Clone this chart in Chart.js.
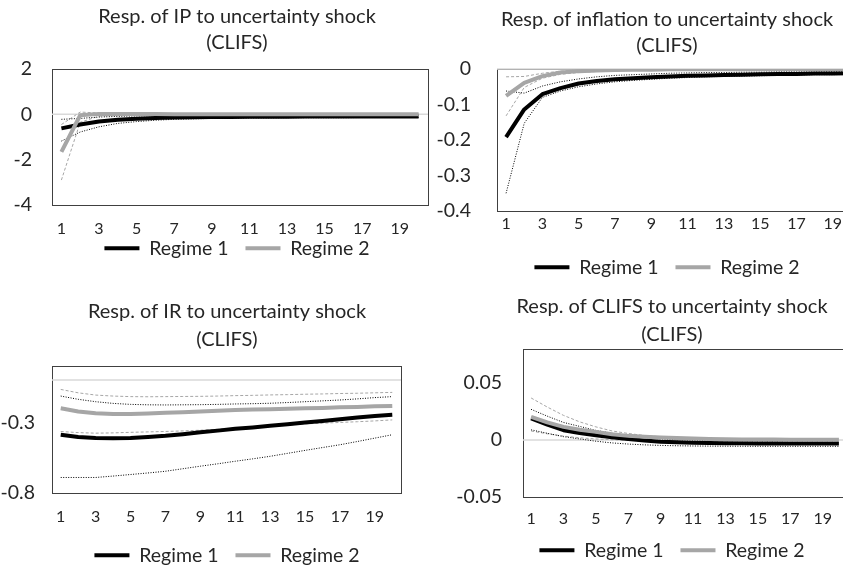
<!DOCTYPE html>
<html>
<head>
<meta charset="utf-8">
<title>Responses to uncertainty shock</title>
<script src="https://cdn.jsdelivr.net/npm/chart.js@4"></script>
<style>
  html, body { margin: 0; padding: 0; background: #fff; width: 843px; height: 567px; overflow: hidden; }
  canvas { position: absolute; }
</style>
</head>
<body>
<canvas id="ipChart"></canvas>
<canvas id="infChart"></canvas>
<canvas id="irChart"></canvas>
<canvas id="clifsChart"></canvas>
<script>
// horizon (months after the shock)
const periods = ['1','2','3','4','5','6','7','8','9','10','11','12','13','14','15','16','17','18','19','20'];

// IP
const ipR1   = [-0.62, -0.45, -0.32, -0.24, -0.19, -0.16, -0.14, -0.13, -0.12, -0.12, -0.11, -0.11, -0.11, -0.10, -0.10, -0.10, -0.10, -0.10, -0.10, -0.10];
const ipR1Lo = [-1.18, -0.78, -0.55, -0.40, -0.32, -0.26, -0.22, -0.20, -0.18, -0.17, -0.16, -0.16, -0.15, -0.15, -0.15, -0.15, -0.14, -0.14, -0.14, -0.14];
const ipR1Hi = [-0.22, -0.18, -0.12, -0.09, -0.07, -0.06, -0.05, -0.05, -0.05, -0.05, -0.05, -0.05, -0.05, -0.05, -0.05, -0.05, -0.05, -0.05, -0.05, -0.05];
const ipR2   = [-1.66, -0.04, 0.02, 0.02, 0.01, 0.01, 0.00, 0.00, 0.00, 0.00, 0.00, 0.00, 0.00, 0.00, 0.00, 0.00, 0.00, 0.00, 0.00, 0.00];
const ipR2Lo = [-2.90, -0.35, -0.08, -0.04, -0.03, -0.02, -0.02, -0.02, -0.02, -0.02, -0.02, -0.02, -0.02, -0.02, -0.02, -0.02, -0.02, -0.02, -0.02, -0.02];
const ipR2Hi = [-0.45, 0.10, 0.06, 0.04, 0.03, 0.02, 0.02, 0.02, 0.02, 0.02, 0.02, 0.02, 0.02, 0.02, 0.02, 0.02, 0.02, 0.02, 0.02, 0.02];
const ipTicks = [2, 0, -2, -4];

// inflation
const infR1   = [-0.192, -0.114, -0.071, -0.054, -0.041, -0.034, -0.029, -0.026, -0.023, -0.021, -0.019, -0.018, -0.017, -0.016, -0.015, -0.014, -0.014, -0.013, -0.013, -0.012];
const infR1Lo = [-0.350, -0.153, -0.080, -0.062, -0.050, -0.042, -0.036, -0.032, -0.029, -0.026, -0.024, -0.022, -0.021, -0.020, -0.019, -0.018, -0.017, -0.016, -0.016, -0.015];
const infR1Hi = [-0.062, -0.068, -0.048, -0.036, -0.028, -0.022, -0.018, -0.016, -0.014, -0.012, -0.011, -0.010, -0.010, -0.009, -0.009, -0.008, -0.008, -0.008, -0.007, -0.007];
const infR2   = [-0.076, -0.039, -0.020, -0.010, -0.006, -0.004, -0.003, -0.002, -0.002, -0.001, -0.001, -0.001, -0.001, -0.001, -0.001, -0.001, -0.001, -0.001, -0.001, -0.001];
const infR2Lo = [-0.132, -0.052, -0.026, -0.015, -0.010, -0.007, -0.005, -0.004, -0.003, -0.003, -0.002, -0.002, -0.002, -0.002, -0.002, -0.002, -0.002, -0.002, -0.002, -0.002];
const infR2Hi = [-0.022, -0.021, -0.012, -0.006, -0.003, -0.002, -0.001, -0.001, 0.000, 0.000, 0.000, 0.000, 0.000, 0.000, 0.000, 0.000, 0.000, 0.000, 0.000, 0.000];
const infTicks = [0, -0.1, -0.2, -0.3, -0.4];

// interest rate
const irR1   = [-0.387, -0.403, -0.410, -0.412, -0.410, -0.403, -0.395, -0.383, -0.370, -0.358, -0.345, -0.335, -0.324, -0.312, -0.300, -0.289, -0.277, -0.265, -0.254, -0.246];
const irR1Lo = [-0.690, -0.690, -0.690, -0.680, -0.669, -0.658, -0.646, -0.628, -0.610, -0.593, -0.575, -0.558, -0.540, -0.519, -0.498, -0.478, -0.458, -0.435, -0.411, -0.387];
const irR1Hi = [-0.113, -0.136, -0.153, -0.165, -0.172, -0.175, -0.176, -0.175, -0.174, -0.172, -0.169, -0.167, -0.164, -0.159, -0.153, -0.147, -0.141, -0.133, -0.124, -0.117];
const irR2   = [-0.200, -0.222, -0.235, -0.240, -0.240, -0.237, -0.232, -0.228, -0.223, -0.217, -0.211, -0.209, -0.207, -0.203, -0.200, -0.197, -0.193, -0.190, -0.186, -0.183];
const irR2Lo = [-0.364, -0.372, -0.376, -0.374, -0.370, -0.367, -0.364, -0.360, -0.355, -0.348, -0.340, -0.335, -0.329, -0.320, -0.310, -0.305, -0.300, -0.295, -0.289, -0.282];
const irR2Hi = [-0.066, -0.090, -0.106, -0.113, -0.117, -0.118, -0.117, -0.116, -0.115, -0.113, -0.110, -0.108, -0.105, -0.103, -0.100, -0.098, -0.095, -0.093, -0.090, -0.087];
const irTicks = [-0.3, -0.8];

// CLIFS
const clR1   = [0.0190, 0.0135, 0.0087, 0.0062, 0.0043, 0.0025, 0.0009, -0.0003, -0.0015, -0.0020, -0.0023, -0.0026, -0.0027, -0.0028, -0.0029, -0.0030, -0.0030, -0.0030, -0.0030, -0.0030];
const clR1Lo = [0.0090, 0.0060, 0.0030, 0.0010, -0.0010, -0.0025, -0.0035, -0.0042, -0.0047, -0.0050, -0.0052, -0.0053, -0.0054, -0.0054, -0.0055, -0.0055, -0.0055, -0.0055, -0.0055, -0.0055];
const clR1Hi = [0.0270, 0.0210, 0.0155, 0.0120, 0.0085, 0.0060, 0.0038, 0.0022, 0.0010, 0.0003, -0.0002, -0.0005, -0.0008, -0.0010, -0.0010, -0.0010, -0.0010, -0.0010, -0.0010, -0.0010];
const clR2   = [0.0203, 0.0155, 0.0116, 0.0090, 0.0072, 0.0052, 0.0037, 0.0030, 0.0023, 0.0018, 0.0014, 0.0010, 0.0008, 0.0006, 0.0005, 0.0004, 0.0003, 0.0003, 0.0002, 0.0002];
const clR2Lo = [0.0080, 0.0055, 0.0035, 0.0020, 0.0010, 0.0003, -0.0003, -0.0007, -0.0010, -0.0011, -0.0012, -0.0012, -0.0012, -0.0012, -0.0012, -0.0012, -0.0012, -0.0012, -0.0012, -0.0012];
const clR2Hi = [0.0370, 0.0290, 0.0217, 0.0160, 0.0116, 0.0080, 0.0058, 0.0040, 0.0029, 0.0022, 0.0015, 0.0012, 0.0010, 0.0010, 0.0010, 0.0010, 0.0010, 0.0010, 0.0010, 0.0010];
const clTicks = [0.05, 0, -0.05];

const BLACK = '#000000';
const GREY = '#a6a6a6';
const TEXT = '#262626';

Chart.defaults.font.family = 'Lato, "Open Sans", sans-serif';
Chart.defaults.color = TEXT;

// plot frame plus the light zero line
const framePlugin = {
    id: 'frame',
    beforeDatasetsDraw(chart) {
        const { ctx, chartArea: a } = chart;
        const y0 = chart.scales.y.getPixelForValue(0);
        ctx.save();
        ctx.strokeStyle = '#404040';
        ctx.lineWidth = 1;
        ctx.strokeRect(Math.round(a.left) + 0.5, Math.round(a.top) + 0.5,
            Math.round(a.right - a.left), Math.round(a.bottom - a.top));
        ctx.strokeStyle = '#d9d9d9';
        ctx.lineWidth = 1.5;
        ctx.beginPath();
        ctx.moveTo(a.left, y0);
        ctx.lineTo(a.right, y0);
        ctx.stroke();
        ctx.restore();
    }
};

function mainLine(label, data, color, order) {
    return { label, data, borderColor: color, backgroundColor: color, borderWidth: 4,
        pointRadius: 0, tension: 0, order, yAxisID: 'y', borderJoinStyle: 'round' };
}

function bandLine(data, color, dash, order) {
    return { label: '', data, borderColor: color, borderWidth: 1, borderDash: dash,
        pointRadius: 0, tension: 0, order, yAxisID: 'y' };
}

function fmt(v) {
    return String(+v.toFixed(3));
}

// only the two regime lines go in the legend; trailing spaces open a gap between them
function legendItems(chart) {
    const items = Chart.defaults.plugins.legend.labels.generateLabels(chart)
        .filter(item => item.datasetIndex < 2)
        .sort((a, b) => a.datasetIndex - b.datasetIndex);
    items[0].text += '   ';
    return items;
}

function drawPanel(id, p) {
    const el = document.getElementById(id);
    el.width = p.w;
    el.height = p.h;
    el.style.left = p.left + 'px';
    el.style.top = p.top + 'px';

    return new Chart(el.getContext('2d'), {
        type: 'line',
        data: {
            labels: periods,
            datasets: [
                mainLine('Regime 1', p.r1, BLACK, 1),
                mainLine('Regime 2', p.r2, GREY, 0),
                bandLine(p.r1Lo, BLACK, [1, 1.5], 2),
                bandLine(p.r1Hi, BLACK, [1, 1.5], 3),
                bandLine(p.r2Lo, GREY, [3, 2], 4),
                bandLine(p.r2Hi, GREY, [3, 2], 5)
            ]
        },
        options: {
            responsive: false,
            animation: false,
            devicePixelRatio: 1,
            layout: { padding: 0 },
            scales: {
                x: {
                    type: 'category',
                    offset: true,
                    grid: { display: false, drawTicks: false },
                    border: { display: false },
                    ticks: {
                        autoSkip: false, maxRotation: 0, padding: p.xPad,
                        font: { size: 16 }, color: TEXT,
                        callback: function (v, i) { return i % 2 === 0 ? this.getLabelForValue(v) : ''; }
                    },
                    afterFit(s) { s.height = p.xh; }
                },
                y: {
                    type: 'linear',
                    position: 'left',
                    min: p.min, max: p.max,
                    grid: { display: false, drawTicks: false },
                    border: { display: false },
                    afterBuildTicks(s) { s.ticks = p.ticks.map(v => ({ value: v })); },
                    ticks: { padding: p.yPad, font: { size: 19.5 }, color: TEXT, callback: v => fmt(v) },
                    afterFit(s) { s.width = p.yw; }
                },
                // empty box that keeps room to the right of the plot
                pad: {
                    type: 'linear',
                    position: 'right',
                    grid: { display: false, drawTicks: false },
                    border: { display: false },
                    ticks: { display: false },
                    afterFit(s) { s.width = p.rightPad; }
                }
            },
            plugins: {
                title: {
                    display: true,
                    text: p.title,
                    color: TEXT,
                    font: { size: 20, weight: 'normal', lineHeight: p.titleLH + 'px' },
                    padding: { top: p.titleTop, bottom: p.titleBottom }
                },
                legend: {
                    position: 'bottom',
                    labels: {
                        generateLabels: legendItems,
                        usePointStyle: true,
                        pointStyle: 'line',
                        pointStyleWidth: 35,
                        padding: 2,
                        color: TEXT,
                        font: { size: 19.5 }
                    }
                },
                tooltip: { enabled: false }
            }
        },
        plugins: [framePlugin]
    });
}

drawPanel('ipChart', {
    title: ['Resp. of IP to uncertainty shock', '(CLIFS)'],
    r1: ipR1, r1Lo: ipR1Lo, r1Hi: ipR1Hi, r2: ipR2, r2Lo: ipR2Lo, r2Hi: ipR2Hi,
    ticks: ipTicks, min: -4, max: 2,
    left: 0, top: 0, w: 474, h: 268, yw: 52, rightPad: 46, xh: 31.5, xPad: 14, yPad: 20,
    titleLH: 26, titleTop: 4, titleBottom: 13
});

drawPanel('infChart', {
    title: ['Resp. of inflation to uncertainty shock', '(CLIFS)'],
    r1: infR1, r1Lo: infR1Lo, r1Hi: infR1Hi, r2: infR2, r2Lo: infR2Lo, r2Hi: infR2Hi,
    ticks: infTicks, min: -0.4, max: 0,
    left: 420, top: 0, w: 494, h: 287, yw: 77, rightPad: 54, xh: 44.5, xPad: 3, yPad: 26,
    titleLH: 26, titleTop: 7, titleBottom: 10
});

drawPanel('irChart', {
    title: ['Resp. of IR to uncertainty shock', '(CLIFS)'],
    r1: irR1, r1Lo: irR1Lo, r1Hi: irR1Hi, r2: irR2, r2Lo: irR2Lo, r2Hi: irR2Hi,
    ticks: irTicks, min: -0.8, max: 0.1,
    left: 0, top: 290, w: 454, h: 285, yw: 52, rightPad: 53, xh: 50.5, xPad: 14, yPad: 17,
    titleLH: 28, titleTop: 8, titleBottom: 12
});

drawPanel('clifsChart', {
    title: ['Resp. of CLIFS to uncertainty shock', '(CLIFS)'],
    r1: clR1, r1Lo: clR1Lo, r1Hi: clR1Hi, r2: clR2, r2Lo: clR2Lo, r2Hi: clR2Hi,
    ticks: clTicks, min: -0.05, max: 0.08,
    left: 420, top: 290, w: 504, h: 280, yw: 103, rightPad: 77, xh: 41.5, xPad: 12, yPad: 21,
    titleLH: 28, titleTop: 3, titleBottom: 0
});
</script>
</body>
</html>
